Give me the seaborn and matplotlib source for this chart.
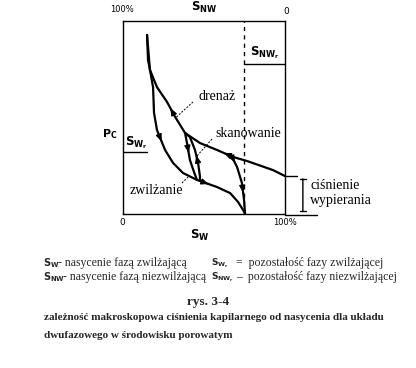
import numpy as np
import pandas as pd
import seaborn as sns
import matplotlib.pyplot as plt

# krzywa drenażu (od S_W = 100% w górę do S_Wr)
sw_drain = [100, 92.6, 76.6, 68.0, 58.2, 47.7, 38.5, 32.3, 27.4, 21.2, 16.9, 15.7, 15.1]
pc_drain = [19.4, 22.5, 27.2, 29.3, 32.9, 36.5, 41.7, 50.2, 57.8, 65.5, 74.4, 79.5, 92.5]

# krzywa zwilżania (od góry do Pc = 0 przy 1 - S_NWr)
sw_imb = [15.1, 16.9, 18.8, 19.4, 21.2, 26.2, 31.1, 37.2, 45.8, 58.2, 66.2, 71.1, 74.2, 75.4]
pc_imb = [92.5, 74.4, 65.5, 52.1, 43.3, 32.9, 26.2, 21.0, 17.4, 13.7, 10.6, 6.0, 1.8, 0.0]

# krzywe skanowania
sw_scan1 = [38.5, 39.7, 41.5, 44.0, 45.8]
pc_scan1 = [41.7, 36.5, 27.7, 21.5, 17.4]
sw_scan2 = [47.5, 47.7, 46.5, 44.6, 41.5, 38.5]
pc_scan2 = [16.9, 19.0, 26.2, 32.9, 39.6, 41.7]
sw_scan3 = [67.4, 70.5, 73.5, 74.8, 75.4]
pc_scan3 = [29.3, 24.1, 15.8, 7.0, 0.0]

sw_nwr_line = 75  # 1 - S_NWr

sns.set_style("white")
plt.rcParams['font.family'] = ['Liberation Serif', 'DejaVu Sans']
plt.rcParams['mathtext.fontset'] = 'dejavusans'

fig = plt.figure(figsize=(4.16, 3.68), dpi=100)
ax = fig.add_axes([122.5 / 416, 1 - 213.5 / 368, 162.5 / 416, 193 / 368])

curves = [
    (sw_drain, pc_drain, [3, 7]),
    (sw_imb, pc_imb, [4, 8]),
    (sw_scan1, pc_scan1, [1]),
    (sw_scan2, pc_scan2, [2]),
    (sw_scan3, pc_scan3, [0, 2]),
]
for xs, ys, arrows in curves:
    df = pd.DataFrame({'sw': xs, 'pc': ys})
    sns.lineplot(data=df, x='sw', y='pc', ax=ax, sort=False, color='black', lw=1.6)
    for k in arrows:
        x0, y0, x1, y1 = xs[k], ys[k], xs[k + 1], ys[k + 1]
        xm, ym = (x0 + x1) / 2, (y0 + y1) / 2
        ax.annotate('', xy=(xm + (x1 - x0) * 0.08, ym + (y1 - y0) * 0.08),
                    xytext=(xm - (x1 - x0) * 0.05, ym - (y1 - y0) * 0.05),
                    arrowprops=dict(arrowstyle='-|>,head_length=0.6,head_width=0.25',
                                    color='black', lw=1, mutation_scale=7))

ax.plot([sw_nwr_line, sw_nwr_line], [0, 100], color='black', lw=1, dashes=(3, 3))

ax.set_xlim(0, 100)
ax.set_ylim(0, 100)
ax.set_xticks([])
ax.set_yticks([])
ax.set_xlabel('')
ax.set_ylabel('')
for s in ax.spines.values():
    s.set_color('black')
    s.set_linewidth(1)

kw = dict(clip_on=False, color='black')
# opisy osi
ax.text(-0.3, 105.5, '100%', fontsize=6, ha='center', va='center', family='DejaVu Sans', **kw)
ax.text(100.6, 104.5, '0', fontsize=6.5, ha='center', va='center', family='DejaVu Sans', **kw)
ax.text(50, 106.8, r'$\mathbf{S}_{\mathbf{NW}}$', fontsize=8.5, ha='center', va='center', **kw)
ax.text(0, -4.6, '0', fontsize=6.5, ha='center', va='center', family='DejaVu Sans', **kw)
ax.text(100, -4.6, '100%', fontsize=6, ha='center', va='center', family='DejaVu Sans', **kw)
ax.text(47.7, -11.5, r'$\mathbf{S}_{\mathbf{W}}$', fontsize=8.5, ha='center', va='center', **kw)
ax.text(-8, 41, r'$\mathbf{P}_{\mathbf{C}}$', fontsize=8, ha='center', va='center', **kw)

# S_NWr
ax.text(87.5, 83.5, r'$\mathbf{S}_{\mathbf{NW}_\mathbf{r}}$', fontsize=8.5, ha='center', va='center', **kw)
ax.plot([75, 100], [77.5, 77.5], lw=1, **kw)
# S_Wr
ax.text(8.5, 36.5, r'$\mathbf{S}_{\mathbf{W}_\mathbf{r}}$', fontsize=8.5, ha='center', va='center', **kw)
ax.plot([1, 15], [32, 32], lw=1, **kw)

# etykiety krzywych
ax.text(46.5, 60.4, 'drenaż', fontsize=10, ha='left', va='center', **kw)
ax.plot([43.4, 33.2], [57.8, 50.0], lw=0.7, dashes=(2, 1.5), **kw)
ax.text(57, 41.7, 'skanowanie', fontsize=10, ha='left', va='center', **kw)
ax.plot([55.1, 45.8], [38.6, 29.8], lw=0.7, dashes=(2, 1.5), **kw)
ax.text(4.6, 11.7, 'zwilżanie', fontsize=10, ha='left', va='center', **kw)
ax.plot([36.6, 40.3], [15.8, 18.9], lw=0.7, dashes=(2, 1.5), **kw)

# ciśnienie wypierania
ax.plot([100, 107.4], [pc_drain[0], pc_drain[0]], lw=1, **kw)
ax.plot([100, 119.7], [-0.8, -0.8], lw=1, **kw)
ax.annotate('', xy=(111, 0), xytext=(111, pc_drain[0]), annotation_clip=False,
            arrowprops=dict(arrowstyle='|-|', lw=1, color='black', mutation_scale=2))
ax.text(115.4, 14.6, 'ciśnienie', fontsize=10, ha='left', va='center', **kw)
ax.text(115.4, 6.8, 'wypierania', fontsize=10, ha='left', va='center', **kw)

# legenda
fig.text(43 / 416, 1 - 263 / 368, r'$\mathbf{S}_{\mathbf{W}}$', fontsize=7, va='center')
fig.text(58 / 416, 1 - 263 / 368, '- nasycenie fazą zwilżającą', fontsize=8.5, va='center')
fig.text(43 / 416, 1 - 277 / 368, r'$\mathbf{S}_{\mathbf{NW}}$', fontsize=7, va='center')
fig.text(63 / 416, 1 - 277 / 368, '- nasycenie fazą niezwilżającą', fontsize=8.5, va='center')
fig.text(211 / 416, 1 - 263 / 368, r'$\mathbf{S}_{\mathbf{W}_\mathbf{r}}$', fontsize=6.5, va='center')
fig.text(236 / 416, 1 - 263 / 368, '=  pozostałość fazy zwilżającej', fontsize=8.5, va='center')
fig.text(211 / 416, 1 - 277 / 368, r'$\mathbf{S}_{\mathbf{NW}_\mathbf{r}}$', fontsize=6.5, va='center')
fig.text(236 / 416, 1 - 277 / 368, '–  pozostałość fazy niezwilżającej', fontsize=8.5, va='center')

# podpis
fig.text(208 / 416, 1 - 302 / 368, 'rys. 3-4', fontsize=9.5, weight='bold', ha='center', va='center')
fig.text(44 / 416, 1 - 318 / 368,
         'zależność makroskopowa ciśnienia kapilarnego od nasycenia dla układu',
         fontsize=8, weight='bold', va='center')
fig.text(44 / 416, 1 - 335 / 368, 'dwufazowego w środowisku porowatym',
         fontsize=8, weight='bold', va='center')

fig.savefig('out.png', dpi=100, facecolor='white')
